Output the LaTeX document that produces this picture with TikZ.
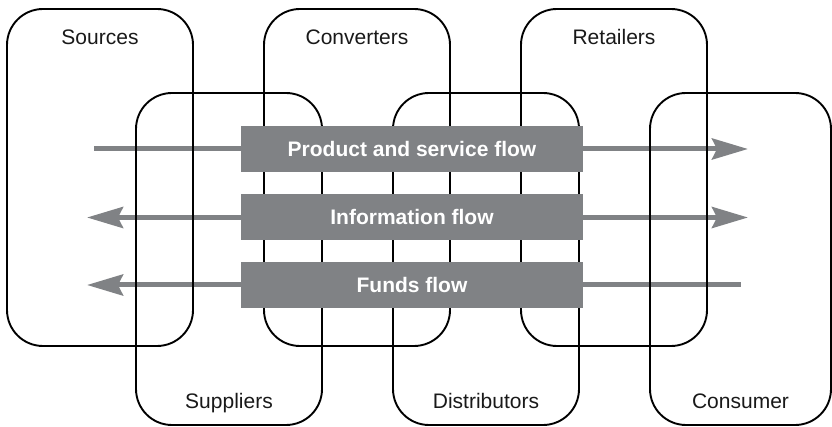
\documentclass[tikz,border=0pt]{standalone}
\usepackage{fontspec}
\setmainfont{Liberation Sans}
\usetikzlibrary{arrows.meta,positioning}
\definecolor{flowgray}{RGB}{128,130,133}

\begin{document}
\begin{tikzpicture}[x=1pt, y=-1pt, >={Stealth[length=36pt, width=21pt, inset=5pt]}, line join=round,
  stage/.style={draw=black, line width=1.9pt, rounded corners=36pt, minimum width=186pt, minimum height=337pt, inner sep=0pt},
  lowstage/.style={stage, minimum height=332pt},
  stagename/.style={font=\fontsize{21}{25}\selectfont, anchor=base, text=black!90},
  flowbar/.style={fill=flowgray, minimum width=342pt, minimum height=46pt, inner sep=0pt, text=white, font=\fontsize{21}{25}\selectfont\bfseries},
  flowline/.style={draw=flowgray, line width=5pt, line cap=butt}]
  \useasboundingbox (0,0) rectangle (832,427);

  % Enden der Pfeile
  \coordinate (prodL) at (94,149);
  \coordinate (prodR) at (748,149);
  \coordinate (infoL) at (87,217.5);
  \coordinate (infoR) at (748,217.5);
  \coordinate (fundL) at (87,285);
  \coordinate (fundR) at (741,285);

  % Pfeile (hinten)
  \draw[flowline, ->] (prodL) -- (prodR);
  \draw[flowline, <->] (infoL) -- (infoR);
  \draw[flowline, <-] (fundL) -- (fundR);

  % obere Reihe
  \node[stage] (src) at (100,177.5) {};
  \node[stage] (conv) at (357,177.5) {};
  \node[stage] (ret) at (614,177.5) {};
  \node[stagename] (src-name) at ([yshift=-36.7pt]src.north) {Sources};
  \node[stagename] (conv-name) at ([yshift=-36.7pt]conv.north) {Converters};
  \node[stagename] (ret-name) at ([yshift=-36.7pt]ret.north) {Retailers};

  % untere Reihe
  \node[lowstage] (sup) at (229,259) {};
  \node[lowstage] (dist) at (486,259) {};
  \node[lowstage, minimum width=181pt] (cons) at (740.5,259) {};
  \node[stagename] (sup-name) at ([yshift=17pt]sup.south) {Suppliers};
  \node[stagename] (dist-name) at ([yshift=17pt]dist.south) {Distributors};
  \node[stagename] (cons-name) at ([yshift=17pt]cons.south) {Consumer};

  % Balken
  \node[flowbar] (prod) at (412,149) {Product and service flow};
  \node[flowbar, below=22pt of prod] (info) {Information flow};
  \node[flowbar, below=21pt of info] (fund) {Funds flow};
\end{tikzpicture}
\end{document}
